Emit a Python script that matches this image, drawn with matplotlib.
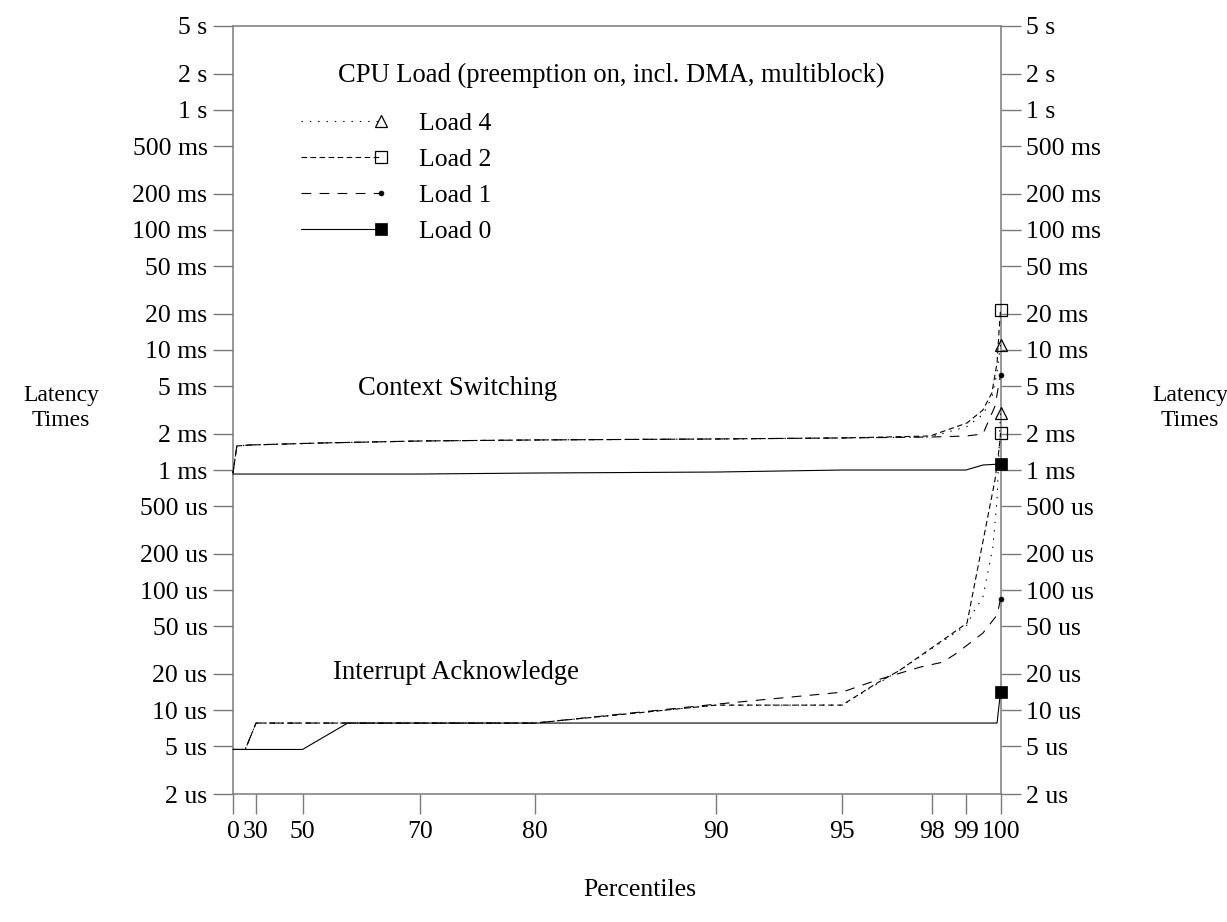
import numpy as np
import matplotlib
matplotlib.use("Agg")
import matplotlib.pyplot as plt
from matplotlib.ticker import NullLocator
from matplotlib.legend_handler import HandlerLine2D

plt.rcParams['font.family'] = ['Liberation Serif', 'DejaVu Serif']
plt.rcParams['lines.scale_dashes'] = False
plt.rcParams['font.size'] = 18.5

# ---------------- data ----------------
# percentile axis ticks (non-linear percentile axis)
x_ticks = [0, 30, 50, 70, 80, 90, 95, 98, 99, 100]
x_tick_labels = ['0', '30', '50', '70', '80', '90', '95', '98', '99', '100']
x_tick_frac = [0, 0.030, 0.0906, 0.2436, 0.3935, 0.6293, 0.7935, 0.9114, 0.955, 1.0]

# latency axis ticks (seconds)
y_ticks = [2e-6, 5e-6, 1e-5, 2e-5, 5e-5, 1e-4, 2e-4, 5e-4, 1e-3, 2e-3, 5e-3,
           1e-2, 2e-2, 5e-2, 0.1, 0.2, 0.5, 1, 2, 5]
y_tick_labels = ['2 us', '5 us', '10 us', '20 us', '50 us', '100 us', '200 us',
                 '500 us', '1 ms', '2 ms', '5 ms', '10 ms', '20 ms', '50 ms',
                 '100 ms', '200 ms', '500 ms', '1 s', '2 s', '5 s']

# Context switching latencies (microseconds)
cs_load0_p = [0, 50, 70, 80, 90, 95, 99, 99.49, 100]
cs_load0_v = [926, 926, 926, 944, 962, 1000, 1000, 1101, 1122]

cs_load1_p = [0, 5, 22, 53, 70, 80, 90, 95, 98, 99, 99.49, 99.84, 100]
cs_load1_v = [944, 1585, 1616, 1679, 1745, 1780, 1814, 1850, 1884, 1920, 1995, 3400, 6191]

cs_load2_p = [0, 5, 22, 53, 70, 80, 90, 95, 97.92, 99.03, 99.49, 99.75, 99.9, 99.96, 100]
cs_load2_v = [944, 1585, 1616, 1679, 1745, 1780, 1814, 1850, 1920, 2465, 3162, 4383, 7798, 14678, 21544]

cs_load4_p = [0, 5, 22, 53, 70, 80, 90, 95, 97.92, 99.03, 99.49, 99.75, 99.9, 100]
cs_load4_v = [944, 1585, 1616, 1679, 1745, 1780, 1814, 1850, 1884, 2300, 2900, 4000, 6500, 11010]

# Interrupt acknowledge latencies (microseconds)
ia_load0_p = [0, 50, 57.7, 99.9, 100]
ia_load0_v = [4.7, 4.7, 7.8, 7.8, 14.1]

ia_load1_p = [0, 16, 30, 80, 90, 95, 96.16, 96.92, 97.59, 98.31, 98.73, 99.49, 99.9, 100]
ia_load1_v = [4.7, 4.7, 7.8, 7.8, 11.2, 14.1, 17.8, 20.3, 22.8, 25.1, 29.9, 43.8, 61.9, 84]

ia_load2_p = [0, 16, 30, 80, 90, 95, 96.16, 96.92, 99.03, 99.46, 99.84, 99.96, 100]
ia_load2_v = [4.7, 4.7, 7.8, 7.8, 11.0, 11.0, 16.8, 21.5, 53.1, 228, 825, 1500, 2034]

ia_load4_p = [0, 16, 30, 80, 90, 95, 96.92, 99.03, 99.2, 99.49, 99.78, 99.9, 100]
ia_load4_v = [4.7, 4.7, 7.8, 7.8, 11.0, 11.0, 21.5, 51.1, 64.3, 87.4, 228, 562, 2985]

# ---------------- figure ----------------
fig = plt.figure(figsize=(12.27, 9.22), dpi=100)
ax = fig.add_axes([233 / 1227, 1 - 794 / 922, 767.5 / 1227, 768 / 922])


def fwd(p):
    return np.interp(p, x_ticks, x_tick_frac)


def inv(u):
    return np.interp(u, x_tick_frac, x_ticks)


ax.set_xscale('function', functions=(fwd, inv))
ax.set_yscale('log')

US = 1e-6
styles = {
    'Load 4': dict(dashes=(1, 5), marker='^', mfc='none', mec='black', ms=8, mew=0.9),
    'Load 2': dict(dashes=(4, 2.5), marker='s', mfc='none', mec='black', ms=9, mew=0.9),
    'Load 1': dict(dashes=(7, 6), marker='o', mfc='black', mec='black', ms=3.5, mew=0.5),
    'Load 0': dict(linestyle='-', marker='s', mfc='black', mec='black', ms=8, mew=0.5),
}

series = {
    'Load 4': [(cs_load4_p, cs_load4_v), (ia_load4_p, ia_load4_v)],
    'Load 2': [(cs_load2_p, cs_load2_v), (ia_load2_p, ia_load2_v)],
    'Load 1': [(cs_load1_p, cs_load1_v), (ia_load1_p, ia_load1_v)],
    'Load 0': [(cs_load0_p, cs_load0_v), (ia_load0_p, ia_load0_v)],
}

handles = []
for name in ['Load 4', 'Load 2', 'Load 1', 'Load 0']:
    for i, (p, v) in enumerate(series[name]):
        ln, = ax.plot(p, np.array(v) * US, color='black', lw=0.8,
                      markevery=[-1], clip_on=False, zorder=3,
                      label=name if i == 0 else None, **styles[name])
        if i == 0:
            handles.append(ln)

ax.set_xlim(0, 100)
ax.set_ylim(2e-6, 5)
ax.set_xticks(x_ticks)
ax.set_xticklabels(x_tick_labels)
ax.set_yticks(y_ticks)
ax.set_yticklabels(y_tick_labels)
ax.yaxis.set_minor_locator(NullLocator())
ax.xaxis.set_minor_locator(NullLocator())

gray = '#7a7a7a'
for s in ax.spines.values():
    s.set_color(gray)
    s.set_linewidth(1.1)
ax.tick_params(axis='y', which='both', direction='out', length=14.4, width=1.0,
               color=gray, left=True, right=True, labelleft=True, labelright=True,
               pad=4, labelsize=18.5)
ax.tick_params(axis='x', which='both', direction='out', length=14.4, width=1.0,
               color=gray, pad=5, labelsize=18.5)


class EndMarkerHandler(HandlerLine2D):
    """Legend sample: line with the marker only at its right end."""

    def create_artists(self, *args, **kwargs):
        arts = super().create_artists(*args, **kwargs)
        for a in arts:
            a.set_markevery([-1])
        return arts


leg = ax.legend(handles=handles, loc='upper left', bbox_to_anchor=(0.0784, 0.888),
                frameon=False, numpoints=2, handlelength=3.7, handletextpad=1.2,
                labelspacing=0.5, borderpad=0, borderaxespad=0, fontsize=18.5,
                handler_map={h: EndMarkerHandler() for h in handles})

ax.text(0.1368, 0.936, 'CPU Load (preemption on, incl. DMA, multiblock)',
        transform=ax.transAxes, ha='left', va='center', fontsize=19.1)
ax.text(0.163, 0.528, 'Context Switching', transform=ax.transAxes,
        ha='left', va='center', fontsize=19.2)
ax.text(0.130, 0.1576, 'Interrupt Acknowledge', transform=ax.transAxes,
        ha='left', va='center', fontsize=19.2)

fig.text(61 / 1227, 1 - 408 / 922, 'Latency\nTimes', ha='center', va='center',
         fontsize=17, linespacing=1.25)
fig.text(1190 / 1227, 1 - 408 / 922, 'Latency\nTimes', ha='center', va='center',
         fontsize=17, linespacing=1.25)
fig.text(640 / 1227, 1 - 890 / 922, 'Percentiles', ha='center', va='center',
         fontsize=18.5)

fig.savefig('out.png', dpi=100)
